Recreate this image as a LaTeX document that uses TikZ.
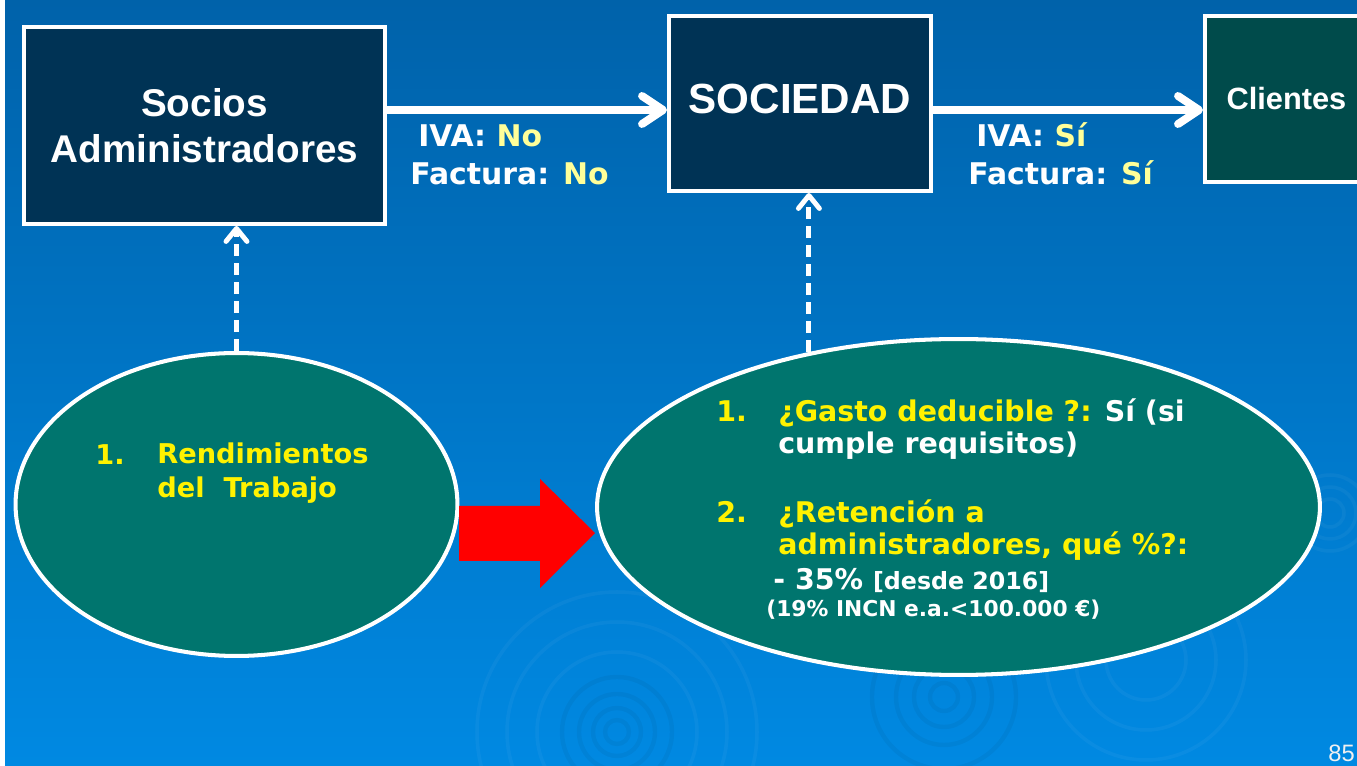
\documentclass[tikz,border=0pt]{standalone}
\usepackage{fontspec}
\setmainfont{Liberation Sans}
\newfontfamily\verdanaFont{DejaVu Sans}
\usetikzlibrary{arrows.meta}
\usetikzlibrary{shapes.geometric}

\definecolor{bgTop}{RGB}{0,98,170}
\definecolor{bgBottom}{RGB}{0,137,226}
\definecolor{navyBox}{RGB}{0,51,85}
\definecolor{tealBox}{RGB}{0,75,75}
\definecolor{tealEllipse}{RGB}{0,117,110}
\definecolor{paleYellow}{RGB}{255,255,153}

\begin{document}
\begin{tikzpicture}[x = 0.02cm, y = -0.02cm, font=\bfseries]
	\tikzstyle{boxStyle}=[draw=white, line width=2.3pt, fill=navyBox, text=white, align=center, inner sep=0pt]
	\tikzstyle{ellipseStyle}=[shape=ellipse, draw=white, line width=2.3pt, fill=tealEllipse, inner sep=0pt]
	\tikzstyle{flowStyle}=[draw=white, line width=4.5pt, -{Straight Barb[round, length=0.42cm, width=0.56cm]}]
	\tikzstyle{dashStyle}=[draw=white, line width=2.8pt, dash pattern=on 0.24cm off 0.14cm, -{Straight Barb[round, length=0.26cm, width=0.42cm]}]
	\tikzstyle{labelStyle}=[anchor=base west, inner sep=0pt, text=white, font=\verdanaFont\bfseries\fontsize{17}{20}\selectfont]
	\tikzstyle{itemStyle}=[anchor=base west, inner sep=0pt, align=left, text=yellow, font=\verdanaFont\bfseries\fontsize{16.2}{18.3}\selectfont]
	\tikzstyle{rippleStyle}=[draw=white, opacity=0.04, line width=2pt]
	\tikzstyle{rippleDarkStyle}=[draw=black, opacity=0.045, line width=2.5pt]
	% fondo
	\useasboundingbox (0,0) rectangle (1357,766);
	\shade[top color=bgTop, bottom color=bgBottom] (0,0) rectangle (1357,766);
	\fill[white] (0,0) rectangle (5,766);
	\foreach \r in {12,24,38,55} \draw[rippleDarkStyle] (617,732) circle[radius=\r];
	\foreach \r in {80,110,140} \draw[rippleStyle] (617,732) circle[radius=\r];
	\foreach \r in {14,30,48,72} \draw[rippleDarkStyle] (944,697) circle[radius=\r];
	\foreach \r in {40,70,100} \draw[rippleStyle] (1146,660) circle[radius=\r];
	\foreach \r in {14,26,38} \draw[rippleStyle] (1330,513) circle[radius=\r];
	% cajas
	\node[boxStyle, minimum width=7.22cm, minimum height=3.94cm, font=\fontsize{22}{26.5}\selectfont\bfseries] (socios) at (204.5,125.5) {Socios\\Administradores};
	\node[boxStyle, minimum width=5.24cm, minimum height=3.5cm, text depth=0.2cm, font=\fontsize{24}{28}\selectfont\bfseries] (sociedad) at (800,103.5) {SOCIEDAD};
	\node[boxStyle, fill=tealBox, minimum width=3.26cm, minimum height=3.32cm, font=\fontsize{17.5}{21}\selectfont\bfseries] (clientes) at (1286.5,99) {Clientes};
	% elipses
	\node[ellipseStyle, minimum width=8.84cm, minimum height=6.06cm] (rendimientos) at (236.5,504.5) {};
	\node[ellipseStyle, minimum width=14.46cm, minimum height=6.72cm] (gasto) at (958.5,507) {};
	% flechas
	\draw[flowStyle] ([yshift=0.31cm]socios.east) -- ([yshift=-0.13cm]sociedad.west);
	\draw[flowStyle] ([yshift=-0.13cm]sociedad.east) -- ([yshift=-0.22cm]clientes.west);
	\draw[dashStyle] (rendimientos.north) -- (rendimientos.north |- socios.south);
	\draw[dashStyle] (gasto.134) -- (gasto.134 |- sociedad.south);
	\fill[red] (459,506) -- (540,506) -- (540,479) -- (595,533) -- (540,588) -- (540,561) -- (459,561) -- cycle;
	% textos
	\node[labelStyle] (ivaNo) at (418,147) {IVA: \textcolor{paleYellow}{No}};
	\node[labelStyle] (facturaNo) at (410,185) {Factura: \textcolor{paleYellow}{No}};
	\node[labelStyle] (ivaSi) at (976,147) {IVA: \textcolor{paleYellow}{Sí}};
	\node[labelStyle] (facturaSi) at (968,185) {Factura: \textcolor{paleYellow}{Sí}};
	\node[itemStyle, font=\verdanaFont\bfseries\fontsize{15.5}{19.5}\selectfont] (numRend) at (95,465) {1.};
	\node[itemStyle, font=\verdanaFont\bfseries\fontsize{15.5}{19.5}\selectfont] (textoRend) at (157,498) {Rendimientos\\del\ \ Trabajo};
	\node[itemStyle] (numGasto) at (716,422) {1.};
	\node[itemStyle] (textoGasto) at (778,454) {¿Gasto deducible ?: \textcolor{white}{Sí (si}\\\textcolor{white}{cumple requisitos)}};
	\node[itemStyle] (numRet) at (716,523) {2.};
	\node[itemStyle] (textoRet) at (778,555) {¿Retención a\\administradores, qué \%?:};
	\node[itemStyle, text=white] (porcentaje) at (773,590) {- 35\% {\fontsize{13.5}{16}\selectfont [desde 2016]}};
	\node[itemStyle, text=white, font=\verdanaFont\bfseries\fontsize{12.4}{15}\selectfont] (incn) at (766,617) {(19\% INCN e.a.<100.000 €)};
	\node[anchor=base west, inner sep=0pt, text=white!88!gray, font=\fontsize{13.5}{16}\selectfont] (pagina) at (1328,762) {85};
\end{tikzpicture}
\end{document}
